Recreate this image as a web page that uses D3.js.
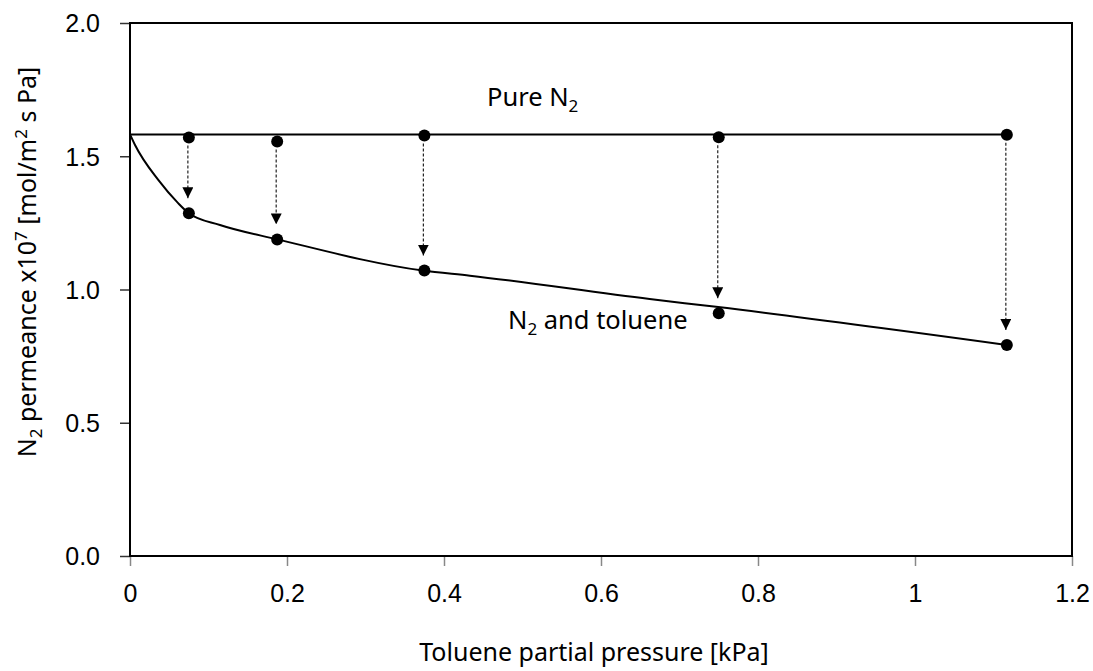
<!DOCTYPE html>
<html>
<head>
<meta charset="utf-8">
<script src="https://cdn.jsdelivr.net/npm/d3@7"></script>
<style>
	body { margin: 0; background: #fff; }
	svg { font-family: "Noto Sans", "Open Sans", sans-serif; }
	.tick_label { font-size: 25px; fill: #000; }
	.axis_title { font-size: 25px; fill: #000; }
	.note { font-size: 25.5px; fill: #000; }
</style>
</head>
<body>
<div id="chart"></div>
<script>

// measured points (toluene partial pressure, kPa)
let pressure = [0.075, 0.1875, 0.375, 0.75, 1.117];
// permeance with pure N2 feed
let pure_n2 = [1.570, 1.555, 1.578, 1.571, 1.581];
// permeance with N2 + toluene feed
let mixed = [1.286, 1.188, 1.071, 0.911, 0.792];

// pure N2 reference level
let pure_level = 1.582;

// trend curve for the N2 + toluene data
let fit_x = [0, 0.0064, 0.036, 0.061, 0.075, 0.1146, 0.188, 0.373, 0.433, 0.662, 0.7465, 1.117];
let fit_y = [1.582, 1.542, 1.411, 1.325, 1.286, 1.242, 1.188, 1.071, 1.052, 0.964, 0.935, 0.792];

// axis ticks
let x_ticks = [0, 0.2, 0.4, 0.6, 0.8, 1, 1.2];
let y_ticks = [0, 0.5, 1.0, 1.5, 2.0];

draw_chart();

function draw_chart() {
	// SVG canvas size
	let margin = {top: 23, right: 21, bottom: 115, left: 130};
	let width = 1093 - margin.left - margin.right;
	let height = 671 - margin.top - margin.bottom;

	let svg = d3.select("#chart")
		.append("svg")
		.attr("width", 1093)
		.attr("height", 671)
		.append("g")
		.attr("transform", "translate(" + margin.left + "," + margin.top + ")");

	//scales
	let x_scale = d3.scaleLinear()
		.domain([0, 1.2])
		.range([0, width]);

	let y_scale = d3.scaleLinear()
		.domain([0, 2])
		.range([height, 0]);

	//x axis
	let x_axis = d3.axisBottom(x_scale)
		.tickValues(x_ticks)
		.tickSize(10)
		.tickPadding(18)
		.tickFormat(d3.format("~g"));

	let gx = svg.append("g")
		.attr("transform", "translate(0," + height + ")")
		.call(x_axis);
	gx.select(".domain").remove();
	gx.selectAll("line").attr("stroke", "#888").attr("stroke-width", 1.5);
	gx.selectAll("text").attr("class", "tick_label").attr("font-size", null).attr("font-family", null);

	//y axis
	let y_axis = d3.axisLeft(y_scale)
		.tickValues(y_ticks)
		.tickSize(10)
		.tickPadding(20)
		.tickFormat(d3.format(".1f"));

	let gy = svg.append("g")
		.call(y_axis);
	gy.select(".domain").remove();
	gy.selectAll("line").attr("stroke", "#333").attr("stroke-width", 1.5);
	gy.selectAll("text").attr("class", "tick_label").attr("font-size", null).attr("font-family", null)
		.attr("dy", "0.35em");

	//plot frame
	svg.append("rect")
		.attr("x", 0)
		.attr("y", 0)
		.attr("width", width)
		.attr("height", height)
		.attr("fill", "none")
		.attr("stroke", "#000")
		.attr("stroke-width", 2);

	//pure N2 level
	svg.append("line")
		.attr("x1", x_scale(0))
		.attr("x2", x_scale(d3.max(pressure)))
		.attr("y1", y_scale(pure_level))
		.attr("y2", y_scale(pure_level))
		.attr("stroke", "#000")
		.attr("stroke-width", 2);

	//trend curve
	let fit = fit_x.map((x, i) => ({x: x, y: fit_y[i]}));
	let curve = d3.line()
		.x(d => x_scale(d.x))
		.y(d => y_scale(d.y))
		.curve(d3.curveMonotoneX);

	svg.append("path")
		.datum(fit)
		.attr("d", curve)
		.attr("fill", "none")
		.attr("stroke", "#000")
		.attr("stroke-width", 2);

	//arrow head
	svg.append("defs").append("marker")
		.attr("id", "arrow")
		.attr("viewBox", "0 0 10 10")
		.attr("refX", 10)
		.attr("refY", 5)
		.attr("markerWidth", 11)
		.attr("markerHeight", 11)
		.attr("markerUnits", "userSpaceOnUse")
		.attr("orient", "auto")
		.append("path")
		.attr("d", "M0,0 L10,5 L0,10 Z")
		.attr("fill", "#000");

	//dashed arrows from pure to mixed points
	svg.selectAll(".drop")
		.data(pressure)
		.enter()
		.append("line")
		.attr("class", "drop")
		.attr("x1", d => x_scale(d) - 1)
		.attr("x2", d => x_scale(d) - 1)
		.attr("y1", (d, i) => y_scale(pure_n2[i]) + 8)
		.attr("y2", (d, i) => y_scale(mixed[i]) - 15)
		.attr("stroke", "#222")
		.attr("stroke-width", 1.2)
		.attr("stroke-dasharray", "3,2")
		.attr("marker-end", "url(#arrow)");

	//points
	svg.selectAll(".pt_pure")
		.data(pressure)
		.enter()
		.append("circle")
		.attr("class", "pt_pure")
		.attr("cx", d => x_scale(d))
		.attr("cy", (d, i) => y_scale(pure_n2[i]))
		.attr("r", 6)
		.attr("fill", "#000");

	svg.selectAll(".pt_mixed")
		.data(pressure)
		.enter()
		.append("circle")
		.attr("class", "pt_mixed")
		.attr("cx", d => x_scale(d))
		.attr("cy", (d, i) => y_scale(mixed[i]))
		.attr("r", 6)
		.attr("fill", "#000");

	//annotations
	let t1 = svg.append("text")
		.attr("class", "note")
		.attr("x", 357)
		.attr("y", 83);
	t1.append("tspan").text("Pure N");
	t1.append("tspan").attr("font-size", "17px").attr("dy", 6).text("2");

	let t2 = svg.append("text")
		.attr("class", "note")
		.attr("x", 378)
		.attr("y", 306);
	t2.append("tspan").text("N");
	t2.append("tspan").attr("font-size", "17px").attr("dy", 6).text("2");
	t2.append("tspan").attr("dy", -6).text(" and toluene");

	//x axis title
	svg.append("text")
		.attr("class", "axis_title")
		.attr("text-anchor", "middle")
		.attr("x", 464)
		.attr("y", height + 105)
		.text("Toluene partial pressure [kPa]");

	//y axis title
	let yt = svg.append("text")
		.attr("class", "axis_title")
		.attr("text-anchor", "middle")
		.attr("transform", "translate(" + (-94) + "," + (262 - margin.top) + ") rotate(-90)");
	yt.append("tspan").text("N");
	yt.append("tspan").attr("font-size", "17px").attr("dy", 6).text("2");
	yt.append("tspan").attr("dy", -6).text(" permeance x10");
	yt.append("tspan").attr("font-size", "17px").attr("dy", -9).text("7");
	yt.append("tspan").attr("dy", 9).text(" [mol/m");
	yt.append("tspan").attr("font-size", "17px").attr("dy", -9).text("2");
	yt.append("tspan").attr("dy", 9).text(" s Pa]");
}
</script>
</body>
</html>
